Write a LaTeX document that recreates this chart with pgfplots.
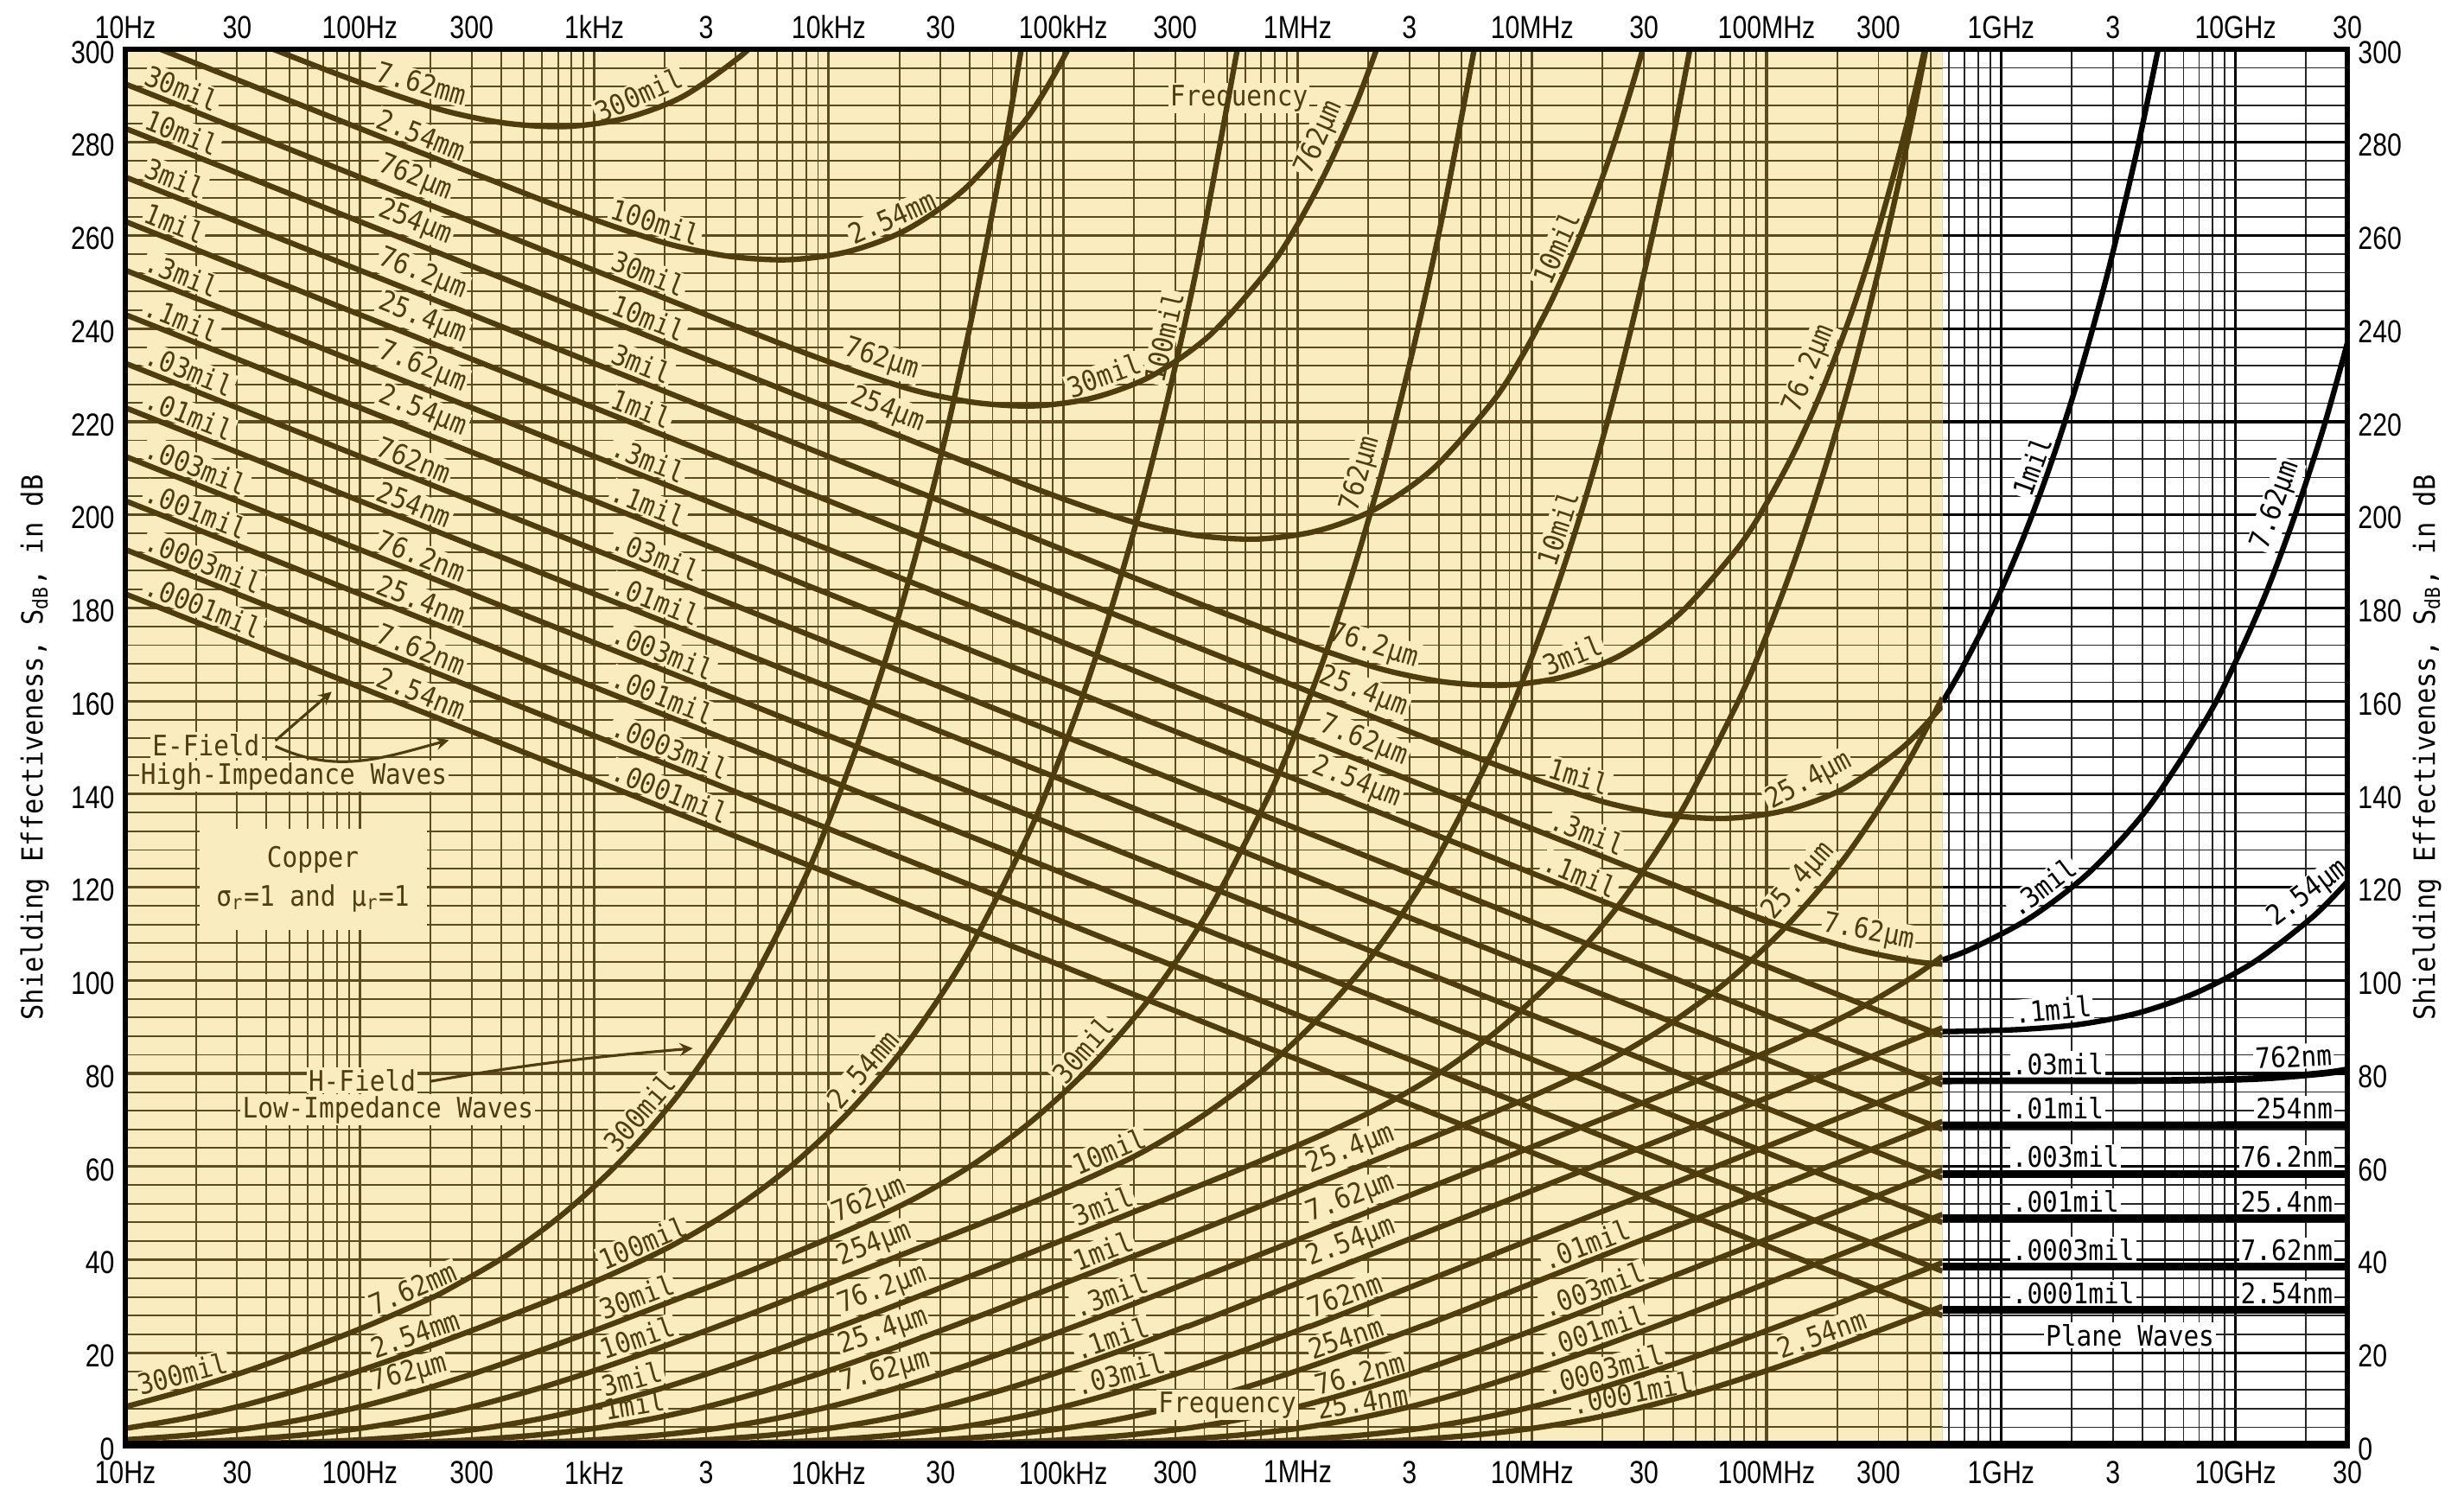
\documentclass[border=0pt]{standalone}
\usepackage{fontspec}
\setmainfont{DejaVu Sans Mono}[FakeStretch=0.9]
\newfontfamily\tickfont{Liberation Sans}[FakeStretch=0.82]
\usepackage{pgfplots}
\pgfplotsset{compat=1.18}
\definecolor{ybg}{HTML}{F9EDBF}
\definecolor{cbrown}{HTML}{4F3D0D}
\definecolor{gbrown}{HTML}{5C4B1E}
\newcommand{\labfont}{\fontsize{9.3}{10}\selectfont}
\newcommand{\tkfont}{\tickfont\fontsize{10.5}{12}\selectfont}
\tikzset{
  ec/.style={draw=cbrown, line width=1.8pt, line join=round, smooth, tension=0.5},
  pc/.style={draw=black, line width=1.8pt, line join=round, smooth, tension=0.5},
  pf/.style={draw=black, line width=2.4pt},
  lb/.style={font=\labfont, text=cbrown, fill=ybg, inner sep=0.6pt, outer sep=1.4pt},
  lw/.style={font=\labfont, text=black, fill=white, inner sep=0.6pt, outer sep=1.4pt},
}
% label helpers: position on the curve, rotation, text
\newcommand{\Lsw}[4][lb]{\node[#1,anchor=south west,rotate=#3] at (axis cs:#2) {#4};}
\newcommand{\Ls}[4][lb]{\node[#1,anchor=south,rotate=#3] at (axis cs:#2) {#4};}
\newcommand{\Lse}[4][lb]{\node[#1,anchor=south east,rotate=#3] at (axis cs:#2) {#4};}

\begin{document}
\begin{tikzpicture}
% ---------------- main (yellow) region: E-field and H-field curves
\begin{axis}[name=main, at={(0,0)}, anchor=south west, scale only axis,
  width=25.71cm, height=16.16cm,
  xmin=1, xmax=10.477, ymin=0, ymax=300,
  axis background/.style={fill=ybg}, axis line style={draw=none},
  xtick={1,2,...,10},
  minor xtick={1.30103,1.47712,1.60206,1.69897,1.77815,1.84510,1.90309,1.95424,
    2.30103,2.47712,2.60206,2.69897,2.77815,2.84510,2.90309,2.95424,
    3.30103,3.47712,3.60206,3.69897,3.77815,3.84510,3.90309,3.95424,
    4.30103,4.47712,4.60206,4.69897,4.77815,4.84510,4.90309,4.95424,
    5.30103,5.47712,5.60206,5.69897,5.77815,5.84510,5.90309,5.95424,
    6.30103,6.47712,6.60206,6.69897,6.77815,6.84510,6.90309,6.95424,
    7.30103,7.47712,7.60206,7.69897,7.77815,7.84510,7.90309,7.95424,
    8.30103,8.47712,8.60206,8.69897,8.77815,8.84510,8.90309,8.95424},
  ytick={0,20,...,300}, minor ytick={4,8,...,296},
  xticklabels={}, yticklabels={},
  major tick length=0pt, minor tick length=0pt,
  grid=both,
  major grid style={draw=gbrown, line width=0.9pt},
  minor grid style={draw=gbrown, line width=0.55pt},
  no markers]

% annotations
\node[lb, minimum width=2.63cm, minimum height=1.17cm, align=center] at (axis cs:1.8,121.7)
  {Copper\\[3pt]σ\textsubscript{r}=1 and μ\textsubscript{r}=1};
\node[lb, anchor=west] at (axis cs:1.09,150.5) {E-Field};
\node[lb, anchor=west] at (axis cs:1.04,143.8) {High-Impedance Waves};
\node[lb] at (axis cs:2.01,78.5) {H-Field};
\node[lb] at (axis cs:2.12,72.2) {Low-Impedance Waves};
\node[lb] at (axis cs:5.75,289.5) {Frequency};
\draw[cbrown, line width=0.9pt, -stealth] (axis cs:1.64,151.5) -- (axis cs:1.88,162.0);
\draw[cbrown, line width=0.9pt, -stealth] (axis cs:1.64,150.3) to[out=-25,in=195] (axis cs:2.38,151.6);
\draw[cbrown, line width=0.9pt, -stealth] (axis cs:2.30,78.3) to[out=10,in=185] (axis cs:3.42,85.4);

% E-field labels, left column
\Lsw{1.04,291.74}{-21.7}{30mil}
\Lsw{1.04,282.2}{-21.7}{10mil}
\Lsw{1.04,271.74}{-21.7}{3mil}
\Lsw{1.04,262.2}{-21.7}{1mil}
\Lsw{1.04,251.74}{-21.7}{.3mil}
\Lsw{1.04,242.2}{-21.7}{.1mil}
\Lsw{1.04,231.74}{-21.7}{.03mil}
\Lsw{1.04,222.2}{-21.7}{.01mil}
\Lsw{1.04,211.74}{-21.7}{.003mil}
\Lsw{1.04,202.2}{-21.7}{.001mil}
\Lsw{1.04,191.74}{-21.7}{.0003mil}
\Lsw{1.04,182.2}{-21.7}{.0001mil}
% metric column
\Lsw{2.03,292.3}{-16}{7.62mm}
\Lsw{2.03,282.4}{-21.7}{2.54mm}
\Lsw{2.03,271.94}{-21.7}{762µm}
\Lsw{2.03,262.4}{-21.7}{254µm}
\Lsw{2.03,251.94}{-21.7}{76.2µm}
\Lsw{2.03,242.4}{-21.7}{25.4µm}
\Lsw{2.03,231.94}{-21.7}{7.62µm}
\Lsw{2.03,222.4}{-21.7}{2.54µm}
\Lsw{2.03,211.94}{-21.7}{762nm}
\Lsw{2.03,202.4}{-21.7}{254nm}
\Lsw{2.03,191.94}{-21.7}{76.2nm}
\Lsw{2.03,182.4}{-21.7}{25.4nm}
\Lsw{2.03,171.94}{-21.7}{7.62nm}
\Lsw{2.03,162.4}{-21.7}{2.54nm}
% middle mil column
\Ls{3.22,286.9}{24}{300mil}
\Lsw{3.03,262.85}{-18}{100mil}
\Lsw{3.03,251.94}{-21.7}{30mil}
\Lsw{3.03,242.4}{-21.7}{10mil}
\Lsw{3.03,231.94}{-21.7}{3mil}
\Lsw{3.03,222.4}{-21.7}{1mil}
\Lsw{3.03,211.94}{-21.7}{.3mil}
\Lsw{3.03,202.4}{-21.7}{.1mil}
\Lsw{3.03,191.94}{-21.7}{.03mil}
\Lsw{3.03,182.4}{-21.7}{.01mil}
\Lsw{3.03,171.94}{-21.7}{.003mil}
\Lsw{3.03,162.4}{-21.7}{.001mil}
\Lsw{3.03,151.94}{-21.7}{.0003mil}
\Lsw{3.03,142.4}{-21.7}{.0001mil}
% labels near the minima
\Ls{4.3,260.6}{24}{2.54mm}
\Ls{4.2,229.4}{-17.6}{762µm}
\Ls{4.22,218.6}{-21.3}{254µm}
\Ls{5.2,226.5}{20}{30mil}
\Ls{6.3,167.8}{-17}{76.2µm}
\Ls{6.25,158.0}{-21.3}{25.4µm}
\Ls{6.25,147.54}{-21.7}{7.62µm}
\Ls{6.22,138.6}{-21.7}{2.54µm}
\Ls{7.2,166.5}{22}{3mil}
\Ls{7.18,140.4}{-17}{1mil}
\Ls{7.21,128.4}{-21.3}{.3mil}
\Ls{7.18,119.4}{-21.7}{.1mil}
\Ls{8.22,139.1}{28}{25.4µm}
\Ls{8.42,106.2}{-11}{7.62µm}
\Ls{7.17,255.9}{66}{10mil}
\Ls{8.26,229.8}{68}{76.2µm}
\Ls{6.17,279.3}{66}{762µm}

% H-field labels
\Lsw{1.05,9.1}{15}{300mil}
\Lsw{2.05,26.2}{23}{7.62mm}
\Lsw{2.05,17.0}{19}{2.54mm}
\Lsw{2.05,9.0}{15.3}{762µm}
\Lsw{3.03,35.9}{22.6}{100mil}
\Lsw{3.03,25.3}{20.4}{30mil}
\Lsw{3.03,16.7}{19}{10mil}
\Lsw{3.03,8.8}{15.3}{3mil}
\Lsw{3.03,4.0}{9.6}{1mil}
\Ls{3.25,69.2}{49}{300mil}
\Ls{4.2,78.5}{49}{2.54mm}
\Lsw{4.03,45.2}{22.7}{762µm}
\Lsw{4.05,35.9}{21.4}{254µm}
\Lsw{4.05,25.7}{20.6}{76.2µm}
\Lsw{4.05,17.0}{19}{25.4µm}
\Lsw{4.05,9.0}{15.3}{7.62µm}
\Ls{5.14,82.7}{49}{30mil}
\Lsw{5.05,56.2}{22.9}{10mil}
\Lsw{5.05,45.3}{21.4}{3mil}
\Lsw{5.05,35.8}{21}{1mil}
\Lsw{5.05,25.7}{20.5}{.3mil}
\Lsw{5.05,16.7}{19}{.1mil}
\Lsw{5.05,9.0}{15.3}{.03mil}
\Lsw{6.05,55.7}{21.4}{25.4µm}
\Lsw{6.05,45.3}{21.4}{7.62µm}
\Lsw{6.05,35.8}{21}{2.54µm}
\Lsw{6.05,25.7}{20.5}{762nm}
\Lsw{6.05,16.7}{19}{254nm}
\Lsw{6.07,9.1}{15.3}{76.2nm}
\Lsw{6.07,4.0}{9.6}{25.4nm}
\Lsw{7.05,35.8}{21}{.01mil}
\Lsw{7.05,25.7}{20.5}{.003mil}
\Lsw{7.05,17.0}{19}{.001mil}
\Lsw{7.05,9.0}{15.3}{.0003mil}
\Lsw{7.16,5.0}{11}{.0001mil}
\Lsw{8.05,17.0}{19.5}{2.54nm}
\Ls{8.2,118.5}{49}{25.4µm}
\Ls{7.18,196}{72}{10mil}
\Ls{5.5,237.3}{77}{100mil}
\Ls{6.35,207.6}{74}{762µm}

% E-field (high-impedance) curves, .0001 mil ... 300 mil
\addplot[ec] coordinates {(1,183) (8.75,28)};
\addplot[ec] coordinates {(1,192.54) (8.75,37.54)};
\addplot[ec] coordinates {(1,203) (8.75,48)};
\addplot[ec] coordinates {(1,212.54) (8.75,57.54)};
\addplot[ec] coordinates {(1,223) (8.75,68)};
\addplot[ec] coordinates {(1,232.54) (8.75,77.54)};
\addplot[ec] coordinates {(1,243) (8.2,99.03) (8.5,93.04) (8.75,88.12)};
\addplot[ec] coordinates {(1,252.54) (7.5,122.6) (7.876,115.2) (8.126,110.6) (8.376,106.7) (8.626,104.1) (8.75,103.5)};
\addplot[ec] coordinates {(1,263) (6.33,156.4) (6.58,151.5) (6.83,146.6) (7.08,142.0) (7.33,138.0) (7.58,135.5) (7.83,134.8) (8.08,136.5) (8.33,141.2) (8.58,150.0) (8.75,159.0)};
\addplot[ec] coordinates {(1,272.54) (5.376,185.0) (5.626,180.1) (5.876,175.2) (6.126,170.6) (6.376,166.6) (6.626,164.1) (6.876,163.4) (7.126,165.1) (7.376,169.8) (7.626,178.6) (7.876,192.8) (8.0,202.5) (8.126,214.3) (8.25,228.4) (8.376,245.4) (8.5,265.4) (8.626,289.4) (8.75,317.3)};
\addplot[ec] coordinates {(1,283) (4.33,216.4) (4.58,211.5) (4.83,206.6) (5.08,202.0) (5.33,198.0) (5.58,195.5) (5.83,194.8) (6.08,196.5) (6.33,201.2) (6.58,210.0) (6.83,224.2) (6.955,233.9) (7.08,245.7) (7.205,259.9) (7.33,276.8) (7.455,297.0) (7.58,320.8)};
\addplot[ec] coordinates {(1,292.54) (3.376,245.0) (3.626,240.1) (3.876,235.2) (4.126,230.6) (4.376,226.6) (4.626,224.1) (4.876,223.4) (5.126,225.1) (5.376,229.8) (5.626,238.6) (5.876,252.8) (6.001,262.5) (6.126,274.3) (6.251,288.5) (6.376,305.4)};
\addplot[ec] coordinates {(1,303) (2.33,276.4) (2.58,271.5) (2.83,266.6) (3.08,262.0) (3.33,258.0) (3.58,255.5) (3.83,254.8) (4.08,256.5) (4.33,261.2) (4.58,270.0) (4.83,284.2) (4.955,293.9) (5.08,305.7)};
\addplot[ec] coordinates {(1,312.54) (1.626,300.1) (1.876,295.2) (2.126,290.6) (2.376,286.6) (2.626,284.1) (2.876,283.4) (3.126,285.1) (3.376,289.8) (3.626,298.6) (3.751,304.9)};

% H-field (low-impedance) curves
\addplot[ec] coordinates {(1,0) (5.265,0.09) (5.765,0.27) (6.265,0.83) (6.515,1.42) (6.765,2.39) (7.015,3.87) (7.265,6.02) (7.515,8.87) (7.765,12.39) (8.015,16.42) (8.265,20.83) (8.515,25.47) (8.75,29.97)};
\addplot[ec] coordinates {(1,0) (4.788,0.09) (5.288,0.27) (5.788,0.83) (6.038,1.42) (6.288,2.39) (6.538,3.87) (6.788,6.02) (7.038,8.87) (7.288,12.39) (7.538,16.42) (7.788,20.83) (8.038,25.47) (8.288,30.27) (8.75,39.35)};
\addplot[ec] coordinates {(1,0) (4.265,0.09) (4.765,0.27) (5.265,0.83) (5.515,1.42) (5.765,2.39) (6.015,3.87) (6.265,6.02) (6.515,8.87) (6.765,12.39) (7.015,16.42) (7.265,20.83) (7.515,25.47) (7.765,30.27) (8.75,49.73)};
\addplot[ec] coordinates {(1,0) (3.788,0.09) (4.288,0.27) (4.788,0.83) (5.038,1.42) (5.288,2.39) (5.538,3.87) (5.788,6.02) (6.038,8.87) (6.288,12.39) (6.538,16.42) (6.788,20.83) (7.038,25.47) (7.288,30.27) (8.75,59.25)};
\addplot[ec] coordinates {(1,0) (3.265,0.09) (3.765,0.27) (4.265,0.83) (4.515,1.42) (4.765,2.39) (5.015,3.87) (5.265,6.02) (5.515,8.87) (5.765,12.39) (6.015,16.42) (6.265,20.83) (6.515,25.47) (6.765,30.27) (8.75,69.7)};
\addplot[ec] coordinates {(1,0) (2.788,0.09) (3.288,0.27) (3.788,0.83) (4.038,1.42) (4.288,2.39) (4.538,3.87) (4.788,6.02) (5.038,8.87) (5.288,12.39) (5.538,16.42) (5.788,20.83) (6.038,25.47) (6.288,30.27) (8.75,79.24)};
\addplot[ec] coordinates {(1,0) (2.265,0.09) (2.765,0.27) (3.265,0.83) (3.515,1.42) (3.765,2.39) (4.015,3.87) (4.265,6.02) (4.515,8.87) (4.765,12.39) (5.015,16.42) (5.265,20.83) (5.515,25.47) (5.765,30.27) (8.2,78.73) (8.5,84.74) (8.75,89.82)};
\addplot[ec] coordinates {(1,0.01) (1.788,0.09) (2.288,0.27) (2.788,0.83) (3.038,1.42) (3.288,2.39) (3.538,3.87) (3.788,6.02) (4.038,8.87) (4.288,12.39) (4.538,16.42) (4.788,20.83) (5.038,25.47) (5.288,30.27) (6,44.29) (7,64.24) (7.5,74.27) (7.876,81.95) (8.126,87.34) (8.376,93.4) (8.626,100.8) (8.75,105.2)};
\addplot[ec] coordinates {(1,0.05) (1.265,0.09) (1.765,0.27) (2.265,0.83) (2.515,1.42) (2.765,2.39) (3.015,3.87) (3.265,6.02) (3.515,8.87) (3.765,12.39) (4.015,16.42) (4.265,20.83) (4.515,25.47) (4.765,30.27) (5.5,44.7) (6.58,66.4) (6.83,71.5) (7.08,76.9) (7.33,82.9) (7.58,90.4) (7.83,99.7) (8.08,111.4) (8.33,126.1) (8.58,144.9) (8.75,160.7)};
\addplot[ec] coordinates {(1,0.14) (1.288,0.27) (1.788,0.83) (2.038,1.42) (2.288,2.39) (2.538,3.87) (2.788,6.02) (3.038,8.87) (3.288,12.39) (3.538,16.42) (3.788,20.83) (4.038,25.47) (4.288,30.27) (5,44.24) (5.626,56.8) (5.876,61.95) (6.126,67.3) (6.376,73.4) (6.626,80.8) (6.876,90.2) (7.126,101.9) (7.376,116.6) (7.626,135.4) (7.876,159.6) (8.001,174.3) (8.126,191.1) (8.251,210.3) (8.376,232.2) (8.501,257.4) (8.626,286.2) (8.75,319)};
\addplot[ec] coordinates {(1,0.46) (1.265,0.83) (1.515,1.42) (1.765,2.39) (2.015,3.87) (2.265,6.02) (2.515,8.87) (2.765,12.39) (3.015,16.42) (3.265,20.83) (3.515,25.47) (3.765,30.27) (4.58,46.4) (4.83,51.5) (5.08,56.9) (5.33,62.9) (5.58,70.4) (5.83,79.7) (6.08,91.4) (6.33,106.1) (6.58,124.9) (6.83,149.1) (6.955,163.8) (7.08,180.6) (7.205,199.8) (7.33,221.7) (7.455,246.9) (7.58,275.7) (7.68,301.9)};
\addplot[ec] coordinates {(1,1.31) (1.288,2.39) (1.538,3.87) (1.788,6.02) (2.038,8.87) (2.288,12.39) (2.538,16.42) (2.788,20.83) (3.038,25.47) (3.288,30.27) (3.626,36.8) (3.876,41.95) (4.126,47.3) (4.376,53.4) (4.626,60.8) (4.876,70.2) (5.126,81.9) (5.376,96.6) (5.626,115.4) (5.876,139.6) (6.001,154.3) (6.126,171.1) (6.251,190.3) (6.376,212.2) (6.501,237.4) (6.626,266.2) (6.76,301.9)};
\addplot[ec] coordinates {(1,3.76) (1.265,6.02) (1.515,8.87) (1.765,12.39) (2.015,16.42) (2.265,20.83) (2.515,25.5) (2.765,30.4) (2.83,31.7) (3.08,37.0) (3.33,43.0) (3.58,50.4) (3.83,59.7) (4.08,71.4) (4.33,86.1) (4.58,104.9) (4.83,129.1) (4.955,143.8) (5.08,160.6) (5.205,179.8) (5.33,201.7) (5.455,226.9) (5.58,255.7) (5.75,302.0)};
\addplot[ec] coordinates {(1,8.40) (1.288,12.39) (1.538,16.42) (1.788,21.0) (2.038,25.9) (2.288,31.4) (2.376,33.6) (2.626,40.9) (2.876,50.2) (3.126,61.9) (3.376,76.6) (3.626,95.4) (3.876,119.6) (4.001,134.3) (4.126,151.1) (4.251,170.3) (4.376,192.2) (4.501,217.4) (4.626,246.2) (4.75,279.0) (4.83,302.7)};

\node[lb] at (axis cs:5.70,8.8) {Frequency};
\end{axis}

% ---------------- plane-wave (white) region
\begin{axis}[name=pw, at={(main.south east)}, anchor=south east, scale only axis,
  width=4.6851cm, height=16.16cm,
  xmin=8.75, xmax=10.477, ymin=0, ymax=300,
  axis background/.style={fill=white}, axis line style={draw=none},
  xtick={9,10},
  minor xtick={8.77815,8.84510,8.90309,8.95424,9.30103,9.47712,9.60206,9.69897,9.77815,9.84510,9.90309,9.95424,10.30103,10.47712},
  ytick={0,20,...,300}, minor ytick={4,8,...,296},
  xticklabels={}, yticklabels={},
  major tick length=0pt, minor tick length=0pt,
  grid=both,
  major grid style={draw=black, line width=0.9pt},
  minor grid style={draw=black!85, line width=0.5pt},
  no markers]
\draw[blue!35, line width=0.5pt] (axis cs:8.75,0) -- (axis cs:8.75,300);
\Lsw[lw]{9.04,89.35}{5}{.1mil}
\Ls[lw]{9.22,117.1}{37}{.3mil}
\Ls[lw]{9.2,209.2}{70}{1mil}
\Ls[lw]{10.25,200.6}{70}{7.62µm}
\Ls[lw]{10.36,115.3}{37}{2.54µm}
\Lsw[lw]{9.02,78.42}{0}{.03mil}
\Lsw[lw]{9.02,68.9}{0}{.01mil}
\Lsw[lw]{9.02,58.4}{0}{.003mil}
\Lsw[lw]{9.02,48.9}{0}{.001mil}
\Lsw[lw]{9.02,38.5}{0}{.0003mil}
\Lsw[lw]{9.02,29.2}{0}{.0001mil}
\Lse[lw]{10.44,80.5}{3}{762nm}
\Lse[lw]{10.44,68.9}{0}{254nm}
\Lse[lw]{10.44,58.4}{0}{76.2nm}
\Lse[lw]{10.44,48.9}{0}{25.4nm}
\Lse[lw]{10.44,38.5}{0}{7.62nm}
\Lse[lw]{10.44,29.2}{0}{2.54nm}
\node[lw, anchor=north] at (axis cs:9.55,27.4) {Plane Waves};
\addplot[pf] coordinates {(8.75,29.2) (10.477,29.2)};
\addplot[pf] coordinates {(8.75,38.5) (10.477,38.5)};
\addplot[pf] coordinates {(8.75,48.9) (10.477,48.9)};
\addplot[pf] coordinates {(8.75,58.4) (10.477,58.4)};
\addplot[pf] coordinates {(8.75,68.9) (10.477,68.94)};
\addplot[pc, line width=2.2pt] coordinates {(8.75,78.41) (9.5,78.44) (9.876,78.6) (10.126,79.0) (10.376,80.05) (10.477,80.8)};
\addplot[pc] coordinates {(8.75,89.0) (8.83,89.06) (9.08,89.45) (9.33,90.51) (9.58,92.93) (9.83,97.29) (10.08,103.97) (10.33,113.67) (10.477,121.2)};
\addplot[pc] coordinates {(8.75,104.4) (8.876,106.83) (9.126,113.5) (9.376,123.2) (9.626,137.0) (9.876,156.2) (10.0,168.4) (10.126,182.7) (10.25,199.4) (10.376,218.8) (10.477,236.9)};
\addplot[pc] coordinates {(8.75,159.8) (8.83,166.7) (8.955,178.9) (9.08,193.2) (9.205,209.9) (9.33,229.3) (9.455,252.0) (9.58,278.3) (9.68,302.5)};
\end{axis}

% ---------------- frame, bottom and left labels
\begin{axis}[at={(main.south west)}, anchor=south west, scale only axis,
  width=25.71cm, height=16.16cm,
  xmin=1, xmax=10.477, ymin=0, ymax=300,
  axis line style={line width=1.5pt, draw=black},
  xtick={1,1.47712,2,2.47712,3,3.47712,4,4.47712,5,5.47712,6,6.47712,7,7.47712,8,8.47712,9,9.47712,10,10.47712},
  xticklabels={10Hz,30,100Hz,300,1kHz,3,10kHz,30,100kHz,300,1MHz,3,10MHz,30,100MHz,300,1GHz,3,10GHz,30},
  ytick={0,20,...,300},
  major tick length=0pt,
  /pgf/number format/assume math mode=true,
  xticklabel style={font=\tkfont, yshift=-0.05cm},
  yticklabel style={font=\tkfont, yshift=-1pt},
  ylabel={Shielding Effectiveness, S\textsubscript{dB}, in dB},
  ylabel style={font=\fontsize{9.6}{11}\selectfont, at={(axis description cs:-0.0408,0.5)}, anchor=center}]
\draw[black, line width=3.2pt] (rel axis cs:0,0) -- (rel axis cs:1,0);
\end{axis}

% ---------------- top and right labels
\begin{axis}[at={(main.south west)}, anchor=south west, scale only axis,
  width=25.71cm, height=16.16cm,
  xmin=1, xmax=10.477, ymin=0, ymax=300,
  axis line style={draw=none},
  xtick={1,1.47712,2,2.47712,3,3.47712,4,4.47712,5,5.47712,6,6.47712,7,7.47712,8,8.47712,9,9.47712,10,10.47712},
  xticklabels={10Hz,30,100Hz,300,1kHz,3,10kHz,30,100kHz,300,1MHz,3,10MHz,30,100MHz,300,1GHz,3,10GHz,30},
  xticklabel pos=upper, yticklabel pos=right,
  ytick={0,20,...,300},
  major tick length=0pt,
  /pgf/number format/assume math mode=true,
  xticklabel style={font=\tkfont},
  yticklabel style={font=\tkfont, yshift=-1pt},
  ylabel={Shielding Effectiveness, S\textsubscript{dB}, in dB},
  ylabel style={font=\fontsize{9.6}{11}\selectfont, at={(axis description cs:1.0358,0.5)}, anchor=center}]
\end{axis}

\pgfresetboundingbox
\path[use as bounding box] ([xshift=-1.45cm,yshift=-0.72cm]main.south west) rectangle ([xshift=1.35cm,yshift=0.57cm]main.north east);
\end{tikzpicture}
\end{document}
